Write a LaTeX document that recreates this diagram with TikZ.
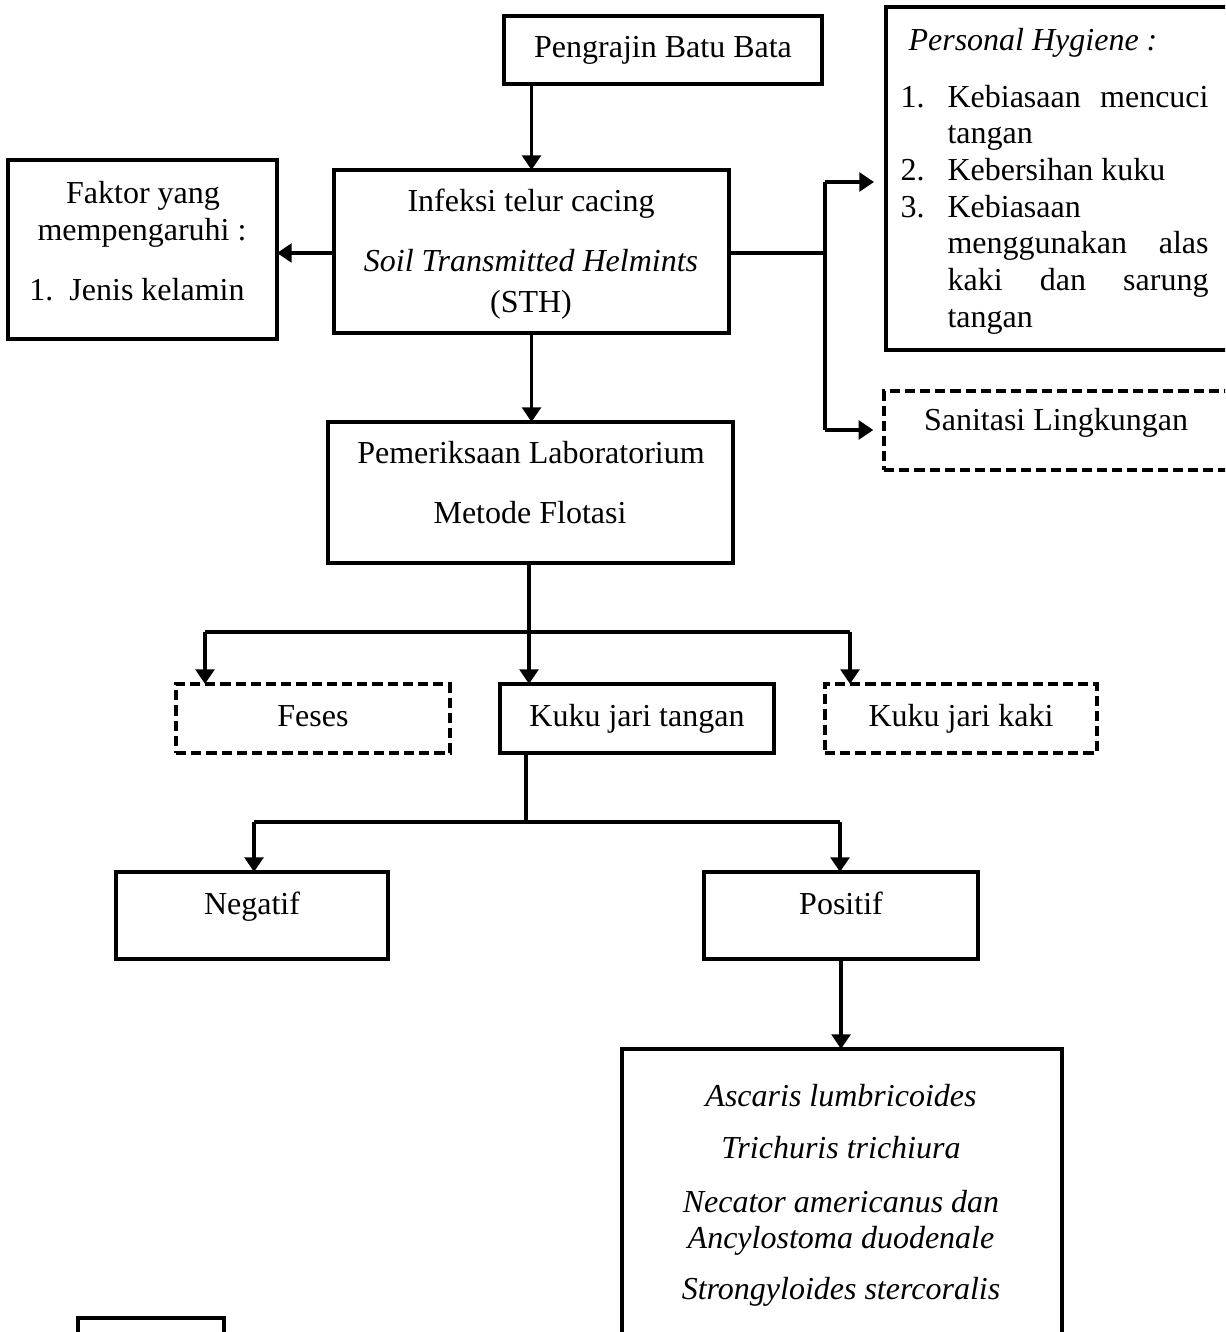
\documentclass[tikz,border=0pt]{standalone}
\usepackage{fontspec}
\setmainfont{Liberation Serif}
\usetikzlibrary{arrows.meta}
\newdimen\pxu \pxu=0.375pt
\newcommand\boxat[6]{\node[#1, minimum width={(#4-#3)*\pxu}, minimum height={(#6-#5)*\pxu}] (#2) at ({(#3+#4)/2},{(#5+#6)/2}) {};}
\begin{document}
\begin{tikzpicture}[x=0.375pt,y=-0.375pt,
  box/.style={draw, line width=1.4pt, inner sep=0pt, outer sep=0pt},
  dbox/.style={box, dash pattern=on 3.8pt off 1.9pt},
  txt/.style={anchor=base, inner sep=0pt, font=\fontsize{12}{14}\selectfont},
  ltxt/.style={txt, anchor=base west},
  ln/.style={line width=1.4pt},
  arr/.style={line width=1.4pt, -{Triangle[length=5.5pt,width=7pt]}}]
\useasboundingbox (0,0) rectangle (1225,1332);
\clip (0,0) rectangle (1225,1332);
% boxes
\boxat{box}{peng}{504}{822}{16}{84}
\boxat{box}{inf}{334}{729}{170}{333}
\boxat{box}{fak}{8}{277}{160}{339}
\boxat{box}{hyg}{886}{1240}{7}{350}
\boxat{dbox}{san}{884}{1240}{391}{470}
\boxat{box}{pem}{328}{733}{422}{563}
\boxat{dbox}{fes}{176}{450}{684}{753}
\boxat{box}{kkt}{500}{774}{684}{753}
\boxat{dbox}{kkk}{825}{1097}{684}{753}
\boxat{box}{neg}{116}{388}{872}{959}
\boxat{box}{pos}{704}{978}{872}{959}
\boxat{box}{spc}{622}{1062}{1049}{1345}
\boxat{box}{sml}{78}{224}{1318}{1345}
% texts
\node[txt] (t1) at (663,58) {Pengrajin Batu Bata};
\node[txt] (t2) at (531,212) {Infeksi telur cacing};
\node[txt] (t3) at (531,272) {\itshape Soil Transmitted Helmints};
\node[txt] (t4) at (531,313) {(STH)};
\node[txt] (t5) at (143,204) {Faktor yang};
\node[txt] (t6) at (142,241) {mempengaruhi :};
\node[txt] (t7) at (137,301) {1.\enspace Jenis kelamin};
\node[ltxt] (h0) at (908,51) {\itshape Personal Hygiene :};
\node[ltxt] (h1n) at (900,108) {1.};
\node[ltxt] (h1) at (947,108) {\hbox to 261\pxu{Kebiasaan\hfill mencuci}};
\node[ltxt] (h2) at (947,144) {tangan};
\node[ltxt] (h3n) at (900,181) {2.};
\node[ltxt] (h3) at (947,181) {Kebersihan kuku};
\node[ltxt] (h4n) at (900,218) {3.};
\node[ltxt] (h4) at (947,218) {Kebiasaan};
\node[ltxt] (h5) at (947,254) {\hbox to 261\pxu{menggunakan\hfill alas}};
\node[ltxt] (h6) at (947,291) {\hbox to 261\pxu{kaki\hfill dan\hfill sarung}};
\node[ltxt] (h7) at (947,328) {tangan};
\node[txt] (s1) at (1056,431) {Sanitasi Lingkungan};
\node[txt] (p1) at (531,464) {Pemeriksaan Laboratorium};
\node[txt] (p2) at (530,524) {Metode Flotasi};
\node[txt] (f1) at (313,726) {Feses};
\node[txt] (f2) at (637,726) {Kuku jari tangan};
\node[txt] (f3) at (961,726) {Kuku jari kaki};
\node[txt] (n1) at (252,914) {Negatif};
\node[txt] (n2) at (841,914) {Positif};
\node[txt] (c1) at (841,1106) {\itshape Ascaris lumbricoides};
\node[txt] (c2) at (841,1158) {\itshape Trichuris trichiura};
\node[txt] (c3) at (841,1212) {\itshape Necator americanus dan};
\node[txt] (c4) at (841,1248) {\itshape Ancylostoma duodenale};
\node[txt] (c5) at (841,1299) {\itshape Strongyloides stercoralis};
% junctions
\coordinate (jr1) at (825,182);
\coordinate (jr2) at (825,430);
\coordinate (ja) at (205,632);
\coordinate (jb) at (529,632);
\coordinate (jc) at (850,632);
\coordinate (jd) at (526,822);
\coordinate (je) at (254,822);
\coordinate (jf) at (840,822);
% connectors
\draw[arr] (inf.north |- peng.south) -- (inf.north);
\draw[arr] (inf.west |- 0,253) -- (fak.east |- 0,253);
\draw[ln] (inf.east |- 0,253) -- (825,253);
\draw[ln] (jr1) -- (jr2);
\draw[arr, shorten >=4.5pt] (jr1) -- (jr1 -| hyg.west);
\draw[arr, shorten >=4pt] (jr2) -- (jr2 -| san.west);
\draw[arr] (inf.south) -- (inf.south |- pem.north);
\draw[ln] (jb |- pem.south) -- (jb);
\draw[ln] (ja) -- (jc);
\draw[arr] (ja) -- (ja |- fes.north);
\draw[arr] (jb) -- (jb |- kkt.north);
\draw[arr] (jc) -- (jc |- kkk.north);
\draw[ln] (jd |- kkt.south) -- (jd);
\draw[ln] (je) -- (jf);
\draw[arr] (je) -- (je |- neg.north);
\draw[arr] (jf) -- (jf |- pos.north);
\draw[arr] (841,959) -- (spc.north -| 841,0);
\end{tikzpicture}
\end{document}
